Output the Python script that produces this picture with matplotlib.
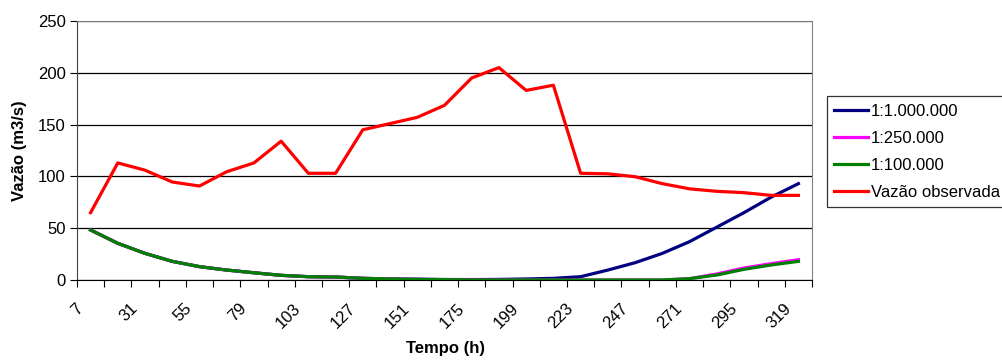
import numpy as np
import matplotlib
matplotlib.use("Agg")
import matplotlib.pyplot as plt
import matplotlib.transforms as mtransforms

plt.rcParams['font.family'] = ['Liberation Sans', 'DejaVu Sans']

# tempo (h), every 12 h
tempo = list(range(7, 320, 12))

escala_1m = [48.3, 35.4, 25.7, 18, 12.9, 9.6, 7, 4.5, 3.2, 2.9, 1.6, 1.0, 0.8, 0.5,
             0.4, 0.6, 1.0, 1.6, 3.2, 9.6, 16.7, 25.7, 37, 51, 65, 80, 93]
escala_250k = [48.3, 35.4, 25.7, 18, 12.9, 9.6, 7, 4.5, 3.2, 2.9, 1.6, 1.0, 0.6, 0.3,
               0, 0, 0, 0, 0, 0, 0, 0, 1.3, 5.8, 11.6, 15.8, 19.6]
escala_100k = [48.3, 35.4, 25.7, 18, 12.9, 9.6, 7, 4.5, 3.2, 2.9, 1.6, 1.0, 0.6, 0.3,
               0, 0, 0, 0, 0, 0, 0, 0, 1.3, 4.8, 10.3, 14.5, 18]
vazao_obs = [65, 113, 106, 94.6, 90.7, 104.5, 113, 134, 103, 103, 145, 151, 157, 168.6,
             195, 205, 183, 188, 103, 102.5, 99.7, 93, 88, 85.6, 84.3, 81.7, 81.7]

fig = plt.figure(figsize=(10.02, 3.6), dpi=100)
ax = fig.add_axes([0.0768, 0.2222, 0.7336, 0.7195])

x = np.arange(len(tempo))
lw = 2.3
ax.plot(x, escala_1m, color='#000080', lw=lw, label='1:1.000.000', zorder=3)
ax.plot(x, escala_250k, color='#FF00FF', lw=lw, label='1:250.000', zorder=4)
ax.plot(x, escala_100k, color='#008000', lw=lw, label='1:100.000', zorder=5)
ax.plot(x, vazao_obs, color='#FF0000', lw=lw, label='Vazão observada', zorder=6)

ax.set_xlim(-0.5, len(tempo) - 0.5)
ax.set_ylim(0, 250)
ax.set_yticks([0, 50, 100, 150, 200, 250])
ax.yaxis.grid(True, color='black', lw=0.9)
ax.set_axisbelow(True)

# ticks at category boundaries, labels at every other category centre
ax.set_xticks(np.arange(-0.5, len(tempo), 1.0))
ax.set_xticklabels([])
ax.set_xticks(x[::2], minor=True)
ax.set_xticklabels([str(t) for t in tempo[::2]], minor=True, rotation=45,
                   ha='right', va='top', rotation_mode='anchor')
ax.tick_params(axis='x', which='minor', length=0, pad=15, labelsize=12)
ax.tick_params(axis='x', which='major', length=5, direction='out', color='black')
ax.tick_params(axis='y', length=5, direction='out', labelsize=12, pad=3)
offset = mtransforms.ScaledTranslation(-15 / 100, 0, fig.dpi_scale_trans)
for lab in ax.get_xticklabels(minor=True):
    lab.set_transform(lab.get_transform() + offset)

for side in ['top', 'right']:
    ax.spines[side].set_color('#808080')
ax.spines['left'].set_color('#404040')
ax.spines['bottom'].set_color('black')

ax.set_ylabel('Vazão (m3/s)', fontsize=12, fontweight='bold', labelpad=8)
fig.text(445 / 1002, 1 - 349 / 360, 'Tempo (h)', fontsize=12, fontweight='bold',
         ha='center', va='center')

leg = fig.legend(loc='upper left', bbox_to_anchor=(0.8253, 0.7333), fontsize=12,
                 frameon=True, fancybox=False, edgecolor='black', handlelength=2.0,
                 handletextpad=0.2, labelspacing=0.72, borderpad=0.45, borderaxespad=0)
leg.get_frame().set_linewidth(0.9)

fig.savefig('out.png', dpi=100)
